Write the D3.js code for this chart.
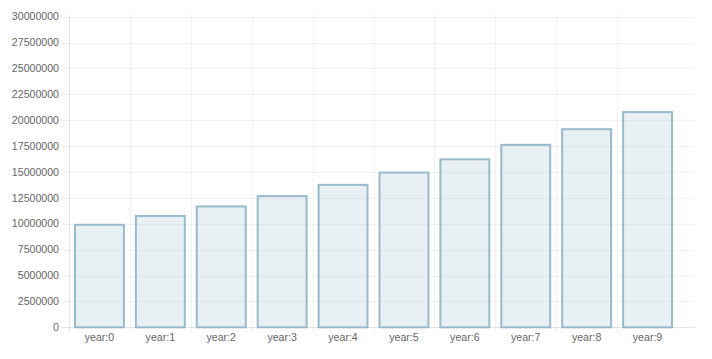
<!DOCTYPE html>
<html><head><meta charset="utf-8">
<script src="https://cdn.jsdelivr.net/npm/d3@7"></script>
<style>body{margin:0;background:#fff}svg{display:block}</style>
</head><body>
<svg id="c" width="712" height="359"></svg>
<script>
const categories = ["year:0","year:1","year:2","year:3","year:4","year:5","year:6","year:7","year:8","year:9"];
const values = [10000000,10850000,11770000,12770000,13860000,15040000,16320000,17720000,19230000,20880000];
const yTicks = [0,2500000,5000000,7500000,10000000,12500000,15000000,17500000,20000000,22500000,25000000,27500000,30000000];

(function(){
const svg = d3.select("#c");
const pLeft = 69, pRight = 678, gridRight = 695, pTop = 16.7, pBottom = 327.3;
const x = d3.scaleBand().domain(categories).range([pLeft, pRight]).paddingInner(0.164).paddingOuter(0.082);
const y = d3.scaleLinear().domain([0, 30000000]).range([pBottom, pTop]);
const step = x.step();
const font = "'Liberation Sans', Arial, Helvetica, sans-serif";
const fs = 10.6;

// horizontal grid
const g = svg.append("g");
g.selectAll("line.h").data(yTicks).join("line")
  .attr("x1", pLeft - 7).attr("x2", gridRight)
  .attr("y1", d => Math.round(y(d)) + 0.5).attr("y2", d => Math.round(y(d)) + 0.5)
  .attr("stroke", (d) => d === 0 ? "rgba(0,0,0,0.1)" : "rgba(0,0,0,0.05)").attr("stroke-width", 1);
// vertical grid at category boundaries
g.selectAll("line.v").data(categories).join("line")
  .attr("x1", d => Math.round(x(d) - x.paddingOuter() * step) + 0.5)
  .attr("x2", d => Math.round(x(d) - x.paddingOuter() * step) + 0.5)
  .attr("y1", pTop - 2).attr("y2", pBottom + 5)
  .attr("stroke", (d, i) => i === 0 ? "rgba(0,0,0,0.1)" : "rgba(0,0,0,0.05)").attr("stroke-width", 1);

// y labels
svg.append("g").selectAll("text").data(yTicks).join("text")
  .attr("x", 59).attr("y", d => y(d)).attr("dy", "0.35em")
  .attr("text-anchor", "end").attr("font-family", font).attr("font-size", fs).attr("fill", "#666")
  .text(d => d);

// bars
svg.append("g").selectAll("rect").data(values).join("rect")
  .attr("x", (d, i) => x(categories[i]) + 1)
  .attr("y", d => y(d) + 1)
  .attr("width", x.bandwidth() - 2)
  .attr("height", d => y(0) - y(d) - 1)
  .attr("fill", "rgba(151,187,205,0.22)")
  .attr("stroke", "rgba(151,187,205,1)").attr("stroke-width", 2);

// x labels
svg.append("g").selectAll("text").data(categories).join("text")
  .attr("x", d => x(d) + x.bandwidth() / 2).attr("y", 341)
  .attr("text-anchor", "middle").attr("font-family", font).attr("font-size", fs).attr("fill", "#666")
  .text(d => d);
})();
</script>
</body></html>
